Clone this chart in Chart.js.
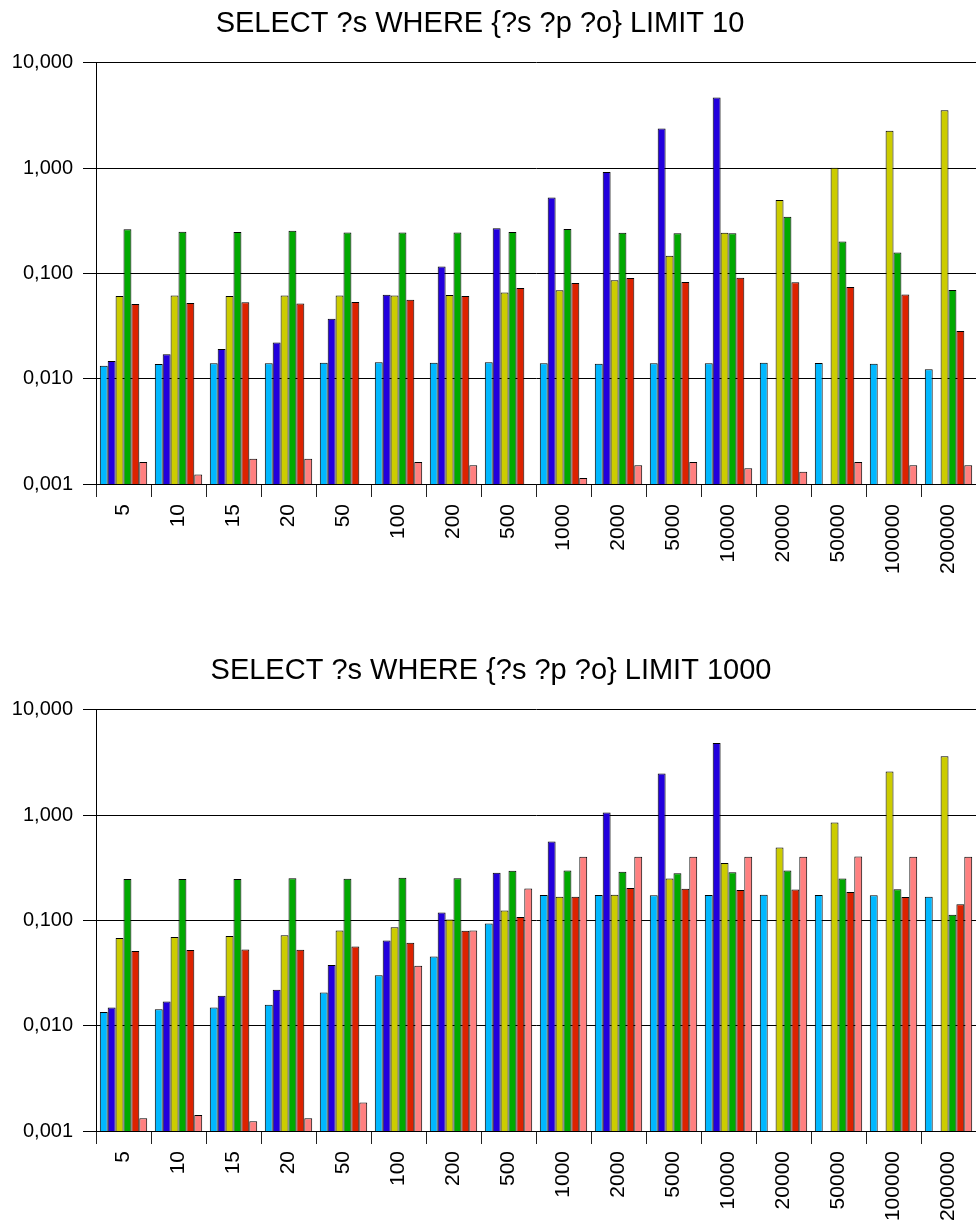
<!DOCTYPE html>
<html>
<head>
<meta charset="utf-8">
<script src="https://cdn.jsdelivr.net/npm/chart.js@4.4.1/dist/chart.umd.min.js"></script>
<style>
  html, body { margin: 0; padding: 0; background: #fff; overflow: hidden; width: 976px; height: 1221px; }
  .box { position: absolute; }
  #b1 { left: -16px; top: 0px; width: 992px; height: 647px; }
  #b2 { left: 6px; top: 647px; width: 970px; height: 574px; }
</style>
</head>
<body>
<div class="box" id="b1"><canvas id="c1"></canvas></div>
<div class="box" id="b2"><canvas id="c2"></canvas></div>
<script>
// ---------- data ----------
const categories = ['5','10','15','20','50','100','200','500','1000','2000','5000','10000','20000','50000','100000','200000'];

const yTickValues = [0.001, 0.01, 0.1, 1, 10];
const yTickLabels = ['0,001', '0,010', '0,100', '1,000', '10,000'];

const title1 = 'SELECT ?s WHERE {?s ?p ?o} LIMIT 10';
const title2 = 'SELECT ?s WHERE {?s ?p ?o} LIMIT 1000';

const seriesNames = ['Series 1', 'Series 2', 'Series 3', 'Series 4', 'Series 5', 'Series 6'];

// LIMIT 10
const lightBlue1 = [0.0133, 0.0138, 0.0140, 0.0140, 0.0142, 0.0143, 0.0142, 0.0143, 0.0140, 0.0139, 0.0140, 0.0140, 0.0142, 0.0141, 0.0139, 0.0123];
const blue1      = [0.0147, 0.0171, 0.0191, 0.0221, 0.0371, 0.0627, 0.116, 0.269, 0.527, 0.916, 2.38, 4.69, null, null, null, null];
const yellow1    = [0.0610, 0.0618, 0.0610, 0.0618, 0.0618, 0.0618, 0.0623, 0.066, 0.069, 0.0859, 0.147, 0.243, 0.497, 1.007, 2.26, 3.55];
const green1     = [0.262, 0.249, 0.247, 0.254, 0.245, 0.245, 0.245, 0.247, 0.264, 0.243, 0.240, 0.240, 0.345, 0.201, 0.158, 0.0695];
const red1       = [0.0511, 0.0523, 0.0531, 0.0519, 0.0534, 0.0562, 0.0610, 0.0726, 0.081, 0.0903, 0.0827, 0.0909, 0.0822, 0.0742, 0.0632, 0.0284];
const pink1      = [0.00162, 0.00123, 0.00174, 0.00174, null, 0.00162, 0.00151, null, 0.00114, 0.00151, 0.00162, 0.00141, 0.00131, 0.00162, 0.00151, 0.00151];

// LIMIT 1000
const lightBlue2 = [0.0135, 0.0143, 0.0149, 0.0158, 0.0207, 0.0301, 0.0455, 0.0937, 0.174, 0.174, 0.173, 0.174, 0.175, 0.174, 0.173, 0.168];
const blue2      = [0.0149, 0.0170, 0.0193, 0.0220, 0.0377, 0.0646, 0.119, 0.284, 0.562, 1.06, 2.49, 4.83, null, null, null, null];
const yellow2    = [0.0680, 0.0695, 0.0710, 0.0721, 0.0804, 0.0859, 0.102, 0.124, 0.168, 0.175, 0.250, 0.350, 0.493, 0.851, 2.60, 3.63];
const green2     = [0.247, 0.247, 0.247, 0.252, 0.249, 0.254, 0.252, 0.296, 0.298, 0.290, 0.281, 0.286, 0.298, 0.250, 0.198, 0.113];
const red2       = [0.0511, 0.0523, 0.0530, 0.0527, 0.0566, 0.0614, 0.0798, 0.108, 0.168, 0.203, 0.200, 0.194, 0.197, 0.186, 0.167, 0.142];
const pink2      = [0.00132, 0.00142, 0.00124, 0.00132, 0.00187, 0.0371, 0.0804, 0.201, 0.402, 0.402, 0.402, 0.402, 0.402, 0.404, 0.402, 0.402];

// ---------- styles ----------
const colors = ['#00B8FF', '#2200DD', '#CCCC00', '#00AA00', '#DD2200', '#FF8080'];
const FONT = "'Liberation Sans', Arial, sans-serif";

function makeChart(canvasId, title, seriesList, axisLeft, xAxisHeight) {
  const datasets = seriesList.map((d, i) => ({
    label: seriesNames[i],
    data: d,
    backgroundColor: colors[i],
    borderColor: '#000',
    borderWidth: 1,
    borderSkipped: 'bottom',
    categoryPercentage: 0.862,
    barPercentage: 1.0
  }));
  return new Chart(document.getElementById(canvasId), {
    type: 'bar',
    data: { labels: categories, datasets },
    options: {
      responsive: true,
      maintainAspectRatio: false,
      animation: false,
      layout: { padding: 0 },
      plugins: {
        legend: { display: false },
        tooltip: { enabled: false },
        title: {
          display: true,
          text: title,
          color: '#000',
          font: { family: FONT, size: 29, weight: 'normal' },
          padding: { top: 7, bottom: 21 }
        }
      },
      scales: {
        x: {
          offset: true,
          grid: { display: true, drawOnChartArea: false, drawTicks: true, tickLength: 13, color: '#222', offset: true },
          border: { display: true, color: '#000', width: 1 },
          ticks: {
            color: '#000',
            font: { family: FONT, size: 21 },
            minRotation: 90, maxRotation: 90,
            padding: 7,
            autoSkip: false
          },
          afterFit: s => { s.height = xAxisHeight; s.paddingLeft = 0; s.paddingRight = 0; }
        },
        y: {
          type: 'logarithmic',
          min: yTickValues[0],
          max: yTickValues[yTickValues.length - 1],
          afterBuildTicks: s => { s.ticks = yTickValues.map(v => ({ value: v })); },
          grid: { color: '#000', lineWidth: 1, drawTicks: true, tickLength: 13 },
          border: { display: true, color: '#000', width: 1 },
          ticks: {
            color: '#000',
            font: { family: FONT, size: 20 },
            padding: 10,
            callback: v => {
              const i = yTickValues.findIndex(t => Math.abs(t - v) / t < 1e-6);
              return i >= 0 ? yTickLabels[i] : '';
            }
          },
          afterFit: s => { s.width = axisLeft; }
        }
      }
    }
  });
}

makeChart('c1', title1, [lightBlue1, blue1, yellow1, green1, red1, pink1], 112, 163);
makeChart('c2', title2, [lightBlue2, blue2, yellow2, green2, red2, pink2], 90, 90);
</script>
</body>
</html>
